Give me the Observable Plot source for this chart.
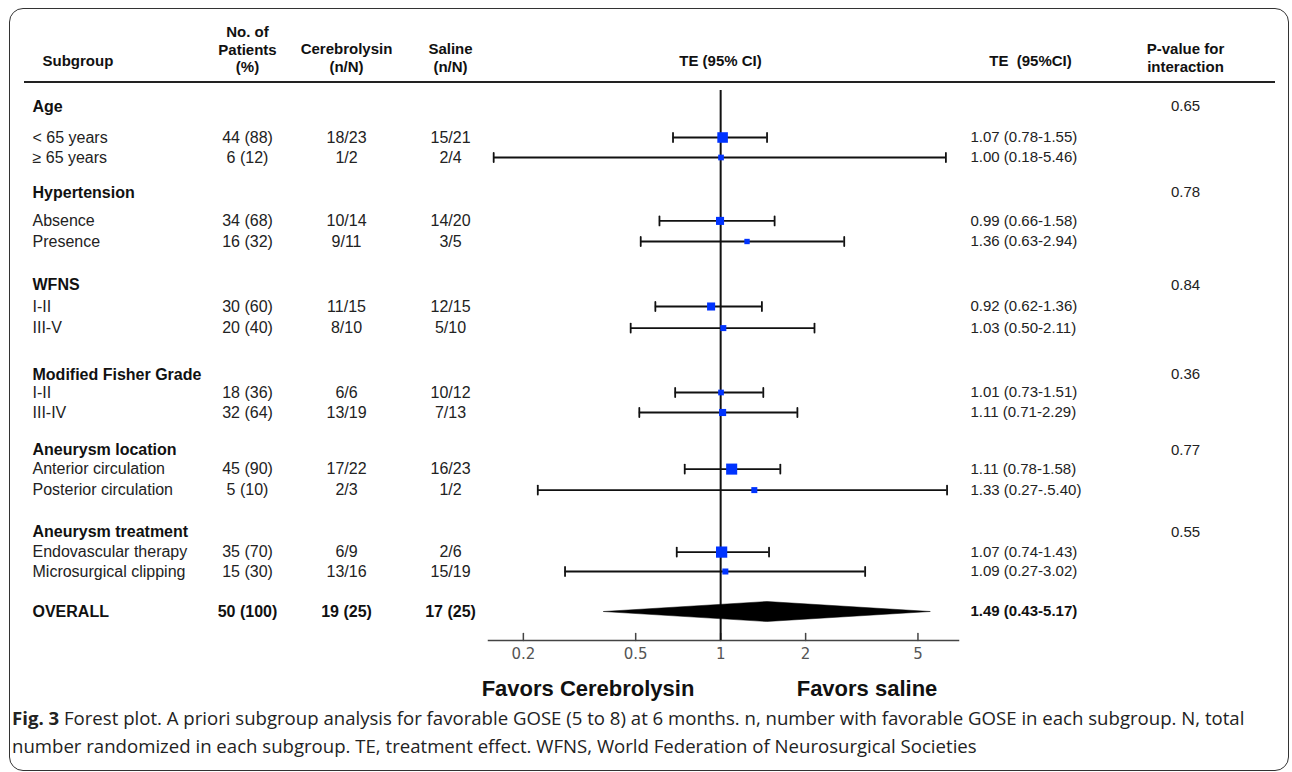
<!DOCTYPE html>
<html>
<head>
<meta charset="utf-8">
<script src="https://cdn.jsdelivr.net/npm/d3@7"></script>
<script src="https://cdn.jsdelivr.net/npm/@observablehq/plot@0.6"></script>
<style>
html, body { margin: 0; padding: 0; background: #fff; }
body { width: 1292px; height: 772px; position: relative; overflow: hidden; font-family: "Liberation Sans", Arial, sans-serif; }
#box { position: absolute; left: 9px; top: 8px; width: 1280px; height: 763px; border: 1.5px solid #333; border-radius: 14px; box-sizing: border-box; }
#rule { position: absolute; left: 24px; top: 81px; width: 1251px; height: 2px; background: #222; }
#chart { position: absolute; left: 0; top: 0; }
#caption { position: absolute; left: 12px; top: 704px; color: #222; line-height: 28px; white-space: nowrap;
  font-family: "Open Sans", "Liberation Sans", sans-serif; font-stretch: normal; font-size: 18.6px; }
#caption b { font-weight: bold; }
</style>
</head>
<body>
<div id="box"></div>
<div id="rule"></div>
<div id="chart"></div>
<div id="caption"><span class="l1"><b>Fig. 3</b> Forest plot. A priori subgroup analysis for favorable GOSE (5 to 8) at 6 months. n, number with favorable GOSE in each subgroup. N, total</span><br><span class="l2">number randomized in each subgroup. TE, treatment effect. WFNS, World Federation of Neurosurgical Societies</span></div>
<script>
// ---------------- data ----------------
const groups = ["Age", "Hypertension", "WFNS", "Modified Fisher Grade", "Aneurysm location", "Aneurysm treatment"];
const pInteraction = ["0.65", "0.78", "0.84", "0.36", "0.77", "0.55"];
const subgroups = ["< 65 years", "\u2265 65 years", "Absence", "Presence", "I-II", "III-V", "I-II", "III-IV",
  "Anterior circulation", "Posterior circulation", "Endovascular therapy", "Microsurgical clipping"];
const patients = ["44 (88)", "6 (12)", "34 (68)", "16 (32)", "30 (60)", "20 (40)", "18 (36)", "32 (64)", "45 (90)", "5 (10)", "35 (70)", "15 (30)"];
const cerebrolysin = ["18/23", "1/2", "10/14", "9/11", "11/15", "8/10", "6/6", "13/19", "17/22", "2/3", "6/9", "13/16"];
const saline = ["15/21", "2/4", "14/20", "3/5", "12/15", "5/10", "10/12", "7/13", "16/23", "1/2", "2/6", "15/19"];
const teLabels = ["1.07 (0.78-1.55)", "1.00 (0.18-5.46)", "0.99 (0.66-1.58)", "1.36 (0.63-2.94)", "0.92 (0.62-1.36)", "1.03 (0.50-2.11)",
  "1.01 (0.73-1.51)", "1.11 (0.71-2.29)", "1.11 (0.78-1.58)", "1.33 (0.27-.5.40)", "1.07 (0.74-1.43)", "1.09 (0.27-3.02)"];
// effects as drawn in the picture
const te = [1.016, 1.003, 0.995, 1.24, 0.925, 1.022, 1.003, 1.016, 1.094, 1.316, 1.008, 1.039];
const lo = [0.678, 0.157, 0.607, 0.521, 0.587, 0.480, 0.690, 0.515, 0.746, 0.225, 0.699, 0.281];
const hi = [1.46, 6.28, 1.553, 2.74, 1.40, 2.15, 1.416, 1.87, 1.627, 6.34, 1.484, 3.25];
const weight = [3.1, 0.9, 1.8, 0.8, 1.8, 1.0, 0.9, 1.4, 3.4, 1.0, 3.5, 1.0];
const overallLabel = "OVERALL";
const overallPatients = "50 (100)";
const overallCerebrolysin = "19 (25)";
const overallSaline = "17 (25)";
const overallTeLabel = "1.49 (0.43-5.17)";
const overallTe = 1.46, overallLo = 0.385, overallHi = 5.53;
const xTicks = [0.2, 0.5, 1, 2, 5];
const favorsLeft = "Favors Cerebrolysin";
const favorsRight = "Favors saline";

// ---------------- layout (row slots, pixel columns) ----------------
const groupSlot = [0, 4.3, 8.93, 13.4, 17.18, 21.28];
const itemSlot = [1.55, 2.55, 5.72, 6.75, 10.0, 11.08, 14.3, 15.3, 18.13, 19.18, 22.28, 23.25];
const overallSlot = 25.25;
const W = 1292, H = 700, mL = 488, mR = 334, mT = 90, mB = 60;
const xR = W - mR;
const xMid = (mL + xR) / 2;
const colName = 32, colPatients = 247, colCere = 346, colSal = 450, colTE = 970, colP = 1185, colTEHead = 1030;

const rows = subgroups.map((name, i) => ({
  name, slot: itemSlot[i], patients: patients[i], cere: cerebrolysin[i], sal: saline[i],
  teLabel: teLabels[i], te: te[i], lo: lo[i], hi: hi[i], weight: weight[i]
}));
const headerRows = groups.map((name, i) => ({name, slot: groupSlot[i], p: pInteraction[i]}));
const overallRow = [{name: overallLabel, slot: overallSlot, patients: overallPatients, cere: overallCerebrolysin,
  sal: overallSaline, teLabel: overallTeLabel}];
const diamond = [
  {x: overallLo, y: overallSlot}, {x: overallTe, y: overallSlot - 0.5},
  {x: overallHi, y: overallSlot}, {x: overallTe, y: overallSlot + 0.5}
];

const lineShape = {draw(context, l) { context.moveTo(0, 0); context.lineTo(0, -l); }};
const ink = "#222";

function leftText(data, field, px, opts = {}) {
  return Plot.text(data, {y: "slot", text: field, frameAnchor: "left", dx: px - mL, fontSize: 16, fill: ink,
    textAnchor: "middle", lineAnchor: "middle", ...opts});
}
function rightText(data, field, px, opts = {}) {
  return Plot.text(data, {y: "slot", text: field, frameAnchor: "right", dx: px - xR, fontSize: 15, fill: ink,
    textAnchor: "middle", lineAnchor: "middle", ...opts});
}
const hdr = {fontWeight: "bold", fontSize: 15, fill: "#111", lineHeight: 1.17, textAnchor: "middle", lineAnchor: "middle"};
function header(label, anchor, px, dy, opts = {}) {
  const base = anchor === "top-left" ? mL : anchor === "top-right" ? xR : xMid;
  return Plot.text([label], {text: d => d, frameAnchor: anchor, dx: px - base, dy, ...hdr, ...opts});
}

const chart = Plot.plot({
  width: W, height: H,
  marginLeft: mL, marginRight: mR, marginTop: mT, marginBottom: mB,
  style: {fontFamily: "'Liberation Sans', Arial, sans-serif", background: "transparent", overflow: "visible"},
  x: {type: "log", domain: [0.1505, 6.96]},
  y: {domain: [-0.8, 26.7], reverse: true, axis: null},
  r: {type: "sqrt", domain: [0, 1], range: [0, 3.386]},
  marks: [
    Plot.frame({anchor: "bottom", stroke: "#444", strokeWidth: 1.5}),
    Plot.vector(xTicks, {x: d => d, frameAnchor: "bottom", anchor: "start", length: 7, shape: lineShape, stroke: "#444", strokeWidth: 1.5}),
    Plot.axisX({ticks: xTicks, tickSize: 0, tickPadding: 8, tickFormat: d => String(d), fontSize: 15, fill: "#555", fontFamily: "'DejaVu Sans', sans-serif"}),
    Plot.ruleX([1], {stroke: "#111", strokeWidth: 2}),
    Plot.ruleY(rows, {y: "slot", x1: "lo", x2: "hi", stroke: "#111", strokeWidth: 1.8}),
    Plot.vector(rows, {x: "lo", y: "slot", length: 9, anchor: "middle", shape: lineShape, stroke: "#111", strokeWidth: 1.8}),
    Plot.vector(rows, {x: "hi", y: "slot", length: 9, anchor: "middle", shape: lineShape, stroke: "#111", strokeWidth: 1.8}),
    Plot.dot(rows, {x: "te", y: "slot", r: "weight", symbol: "square", fill: "#0033ff", stroke: "none"}),
    Plot.line(diamond, {x: "x", y: "y", fill: "#000", stroke: "#000", strokeWidth: 0.5, curve: "linear-closed"}),

    // column headers
    header("Subgroup", "top-left", 42, -30, {textAnchor: "start"}),
    header("No. of\nPatients\n(%)", "top-left", colPatients, -41.5),
    header("Cerebrolysin\n(n/N)", "top-left", colCere, -33),
    header("Saline\n(n/N)", "top-left", colSal, -33),
    header("TE (95% CI)", "top", 720, -30),
    header("TE\u00a0 (95%CI)", "top-right", colTEHead, -30),
    header("P-value for\ninteraction", "top-right", colP, -33),

    // left table
    leftText(headerRows, "name", colName, {textAnchor: "start", fontWeight: "bold", fill: "#111"}),
    leftText(rows, "name", colName, {textAnchor: "start"}),
    leftText(rows, "patients", colPatients),
    leftText(rows, "cere", colCere),
    leftText(rows, "sal", colSal),
    leftText(overallRow, "name", colName, {textAnchor: "start", fontWeight: "bold", fill: "#111"}),
    leftText(overallRow, "patients", colPatients, {fontWeight: "bold", fill: "#111"}),
    leftText(overallRow, "cere", colCere, {fontWeight: "bold", fill: "#111"}),
    leftText(overallRow, "sal", colSal, {fontWeight: "bold", fill: "#111"}),

    // right table
    rightText(rows, "teLabel", colTE, {textAnchor: "start"}),
    rightText(overallRow, "teLabel", colTE, {textAnchor: "start", fontWeight: "bold", fill: "#111"}),
    rightText(headerRows, "p", colP),

    // favors labels
    Plot.text([favorsLeft], {text: d => d, frameAnchor: "bottom", dx: -135.5, dy: 48, fontSize: 22, fontWeight: "bold", fill: "#111", textAnchor: "middle", lineAnchor: "middle"}),
    Plot.text([favorsRight], {text: d => d, frameAnchor: "bottom", dx: 143.5, dy: 48, fontSize: 22, fontWeight: "bold", fill: "#111", textAnchor: "middle", lineAnchor: "middle"})
  ]
});
document.getElementById("chart").appendChild(chart);
</script>
</body>
</html>
